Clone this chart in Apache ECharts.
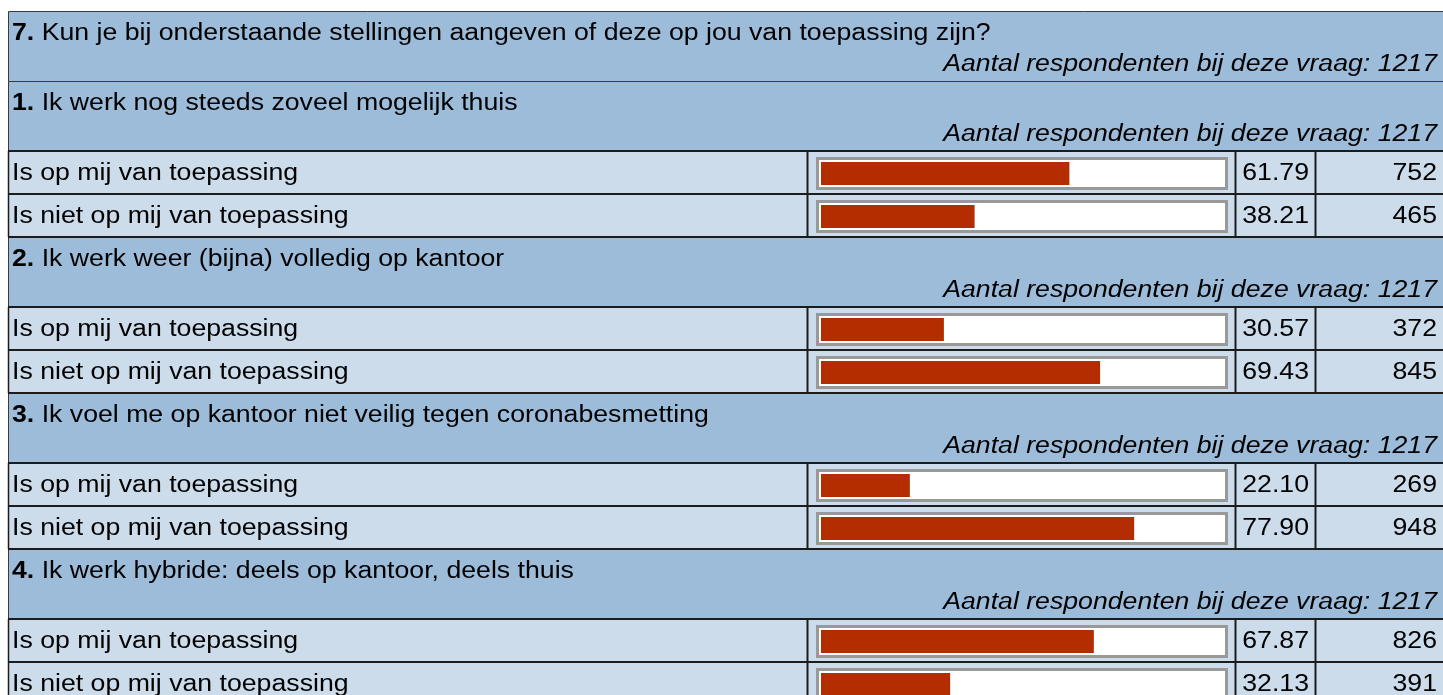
<!DOCTYPE html>
<html>
<head>
<meta charset="utf-8">
<script src="https://cdn.jsdelivr.net/npm/echarts@6/dist/echarts.min.js"></script>
<style>
  html, body { margin: 0; padding: 0; background: #fff; }
  #chart { width: 1443px; height: 695px; }
</style>
</head>
<body>
<div id="chart"></div>
<script>
    // data
    const questionNumber = 7;
    const questionTitle = 'Kun je bij onderstaande stellingen aangeven of deze op jou van toepassing zijn?';
    const respondentsLabel = 'Aantal respondenten bij deze vraag: ';
    const questionRespondents = 1217;
    const statements = [
        'Ik werk nog steeds zoveel mogelijk thuis',
        'Ik werk weer (bijna) volledig op kantoor',
        'Ik voel me op kantoor niet veilig tegen coronabesmetting',
        'Ik werk hybride: deels op kantoor, deels thuis'
    ];
    const statementRespondents = [1217, 1217, 1217, 1217];
    const answers = ['Is op mij van toepassing', 'Is niet op mij van toepassing'];
    const percentYes = [61.79, 30.57, 22.10, 67.87];
    const percentNo = [38.21, 69.43, 77.90, 32.13];
    const countYes = [752, 372, 269, 826];
    const countNo = [465, 845, 948, 391];

    // layout
    const FONT = '"Liberation Sans", Arial, sans-serif';
    const FS = 23.5;
    const SX = 1.135;              // the page is stretched horizontally
    const LEFT = 8, RIGHT = 1443;
    const TOP = 11, HEAD_H = 70, ROW_H = 43;
    const GROUP_H = HEAD_H + 2 * ROW_H;
    const HEAD_BG = '#9dbcd9', ROW_BG = '#ccdceb';
    const LINE = '#1c1c1c';
    const BAR_COLOR = '#b32d00';

    function headerElements(top, num, title, resp) {
        return [{
            type: 'rect',
            shape: { x: LEFT + 0.5, y: top + 0.5, width: RIGHT - LEFT, height: HEAD_H },
            style: { fill: HEAD_BG, stroke: '#3a3a3a', lineWidth: 1 },
            z: 0
        }, {
            type: 'text',
            x: 12, y: top + 23, scaleX: SX,
            style: {
                text: '{b|' + num + '.} ' + title,
                font: FS + 'px ' + FONT, fill: '#000',
                verticalAlign: 'middle', align: 'left',
                rich: { b: { fontWeight: 'bold', fontSize: FS, fontFamily: FONT, fill: '#000' } }
            },
            z: 1
        }, {
            type: 'text',
            x: 1437, y: top + 53.5, scaleX: SX,
            style: {
                text: respondentsLabel + resp,
                font: 'italic ' + FS + 'px ' + FONT, fill: '#000',
                verticalAlign: 'middle', align: 'right'
            },
            z: 1
        }];
    }

    let graphics = headerElements(TOP, questionNumber, questionTitle, questionRespondents);
    statements.forEach(function (s, i) {
        graphics = graphics.concat(headerElements(TOP + HEAD_H + i * GROUP_H, i + 1, s, statementRespondents[i]));
    });

    // one data row: background, borders, label, box, numbers
    function renderRow(params, api) {
        const idx = api.value(1);
        const p0 = api.coord([0, idx]);
        const p100 = api.coord([100, idx]);
        const rowTop = p0[1] - 22.5;
        const txt = function (text, x, align) {
            return {
                type: 'text', x: x, y: rowTop + 23, scaleX: SX,
                style: { text: text, font: FS + 'px ' + FONT, fill: '#000', align: align, verticalAlign: 'middle' }
            };
        };
        const vline = function (x, w) {
            return { type: 'line', shape: { x1: x, y1: rowTop, x2: x, y2: rowTop + ROW_H }, style: { stroke: LINE, lineWidth: w } };
        };
        const hline = function (y) {
            return { type: 'line', shape: { x1: LEFT, y1: y, x2: RIGHT, y2: y }, style: { stroke: LINE, lineWidth: 2 } };
        };
        return {
            type: 'group',
            children: [
                { type: 'rect', shape: { x: LEFT, y: rowTop, width: RIGHT - LEFT, height: ROW_H }, style: { fill: ROW_BG } },
                {
                    type: 'rect',
                    shape: { x: p0[0] - 3.5, y: rowTop + 7.5, width: p100[0] - p0[0] + 7, height: 30 },
                    style: { fill: '#fff', stroke: '#999', lineWidth: 3 }
                },
                hline(rowTop), hline(rowTop + ROW_H),
                vline(LEFT + 0.5, 1.5), vline(807.5, 2), vline(1235.5, 2), vline(1315.5, 2),
                txt(answers[idx], 12, 'left'),
                txt(api.value(0).toFixed(2), 1309, 'right'),
                txt(String(api.value(2)), 1437, 'right')
            ]
        };
    }

    const grids = [], xAxes = [], yAxes = [], series = [];
    statements.forEach(function (s, i) {
        const rowTop = TOP + HEAD_H + i * GROUP_H + HEAD_H;
        grids.push({ left: 821, top: rowTop + 1, width: 402, height: 2 * ROW_H, outerBoundsMode: 'none' });
        xAxes.push({ type: 'value', gridIndex: i, min: 0, max: 100, show: false });
        yAxes.push({ type: 'category', gridIndex: i, data: answers, inverse: true, show: false });
        series.push({
            type: 'custom',
            xAxisIndex: i, yAxisIndex: i,
            clip: false, silent: true, z: 1,
            encode: { x: 0, y: 1 },
            renderItem: renderRow,
            data: [[percentYes[i], 0, countYes[i]], [percentNo[i], 1, countNo[i]]]
        });
        series.push({
            type: 'bar',
            xAxisIndex: i, yAxisIndex: i,
            barWidth: 23, silent: true, z: 3,
            itemStyle: { color: BAR_COLOR },
            data: [percentYes[i], percentNo[i]]
        });
    });

    const myChart = echarts.init(document.getElementById('chart'));
    const option = {
        animation: false,
        graphic: graphics,
        grid: grids,
        xAxis: xAxes,
        yAxis: yAxes,
        series: series
    };
    option && myChart.setOption(option);
</script>
</body>
</html>
